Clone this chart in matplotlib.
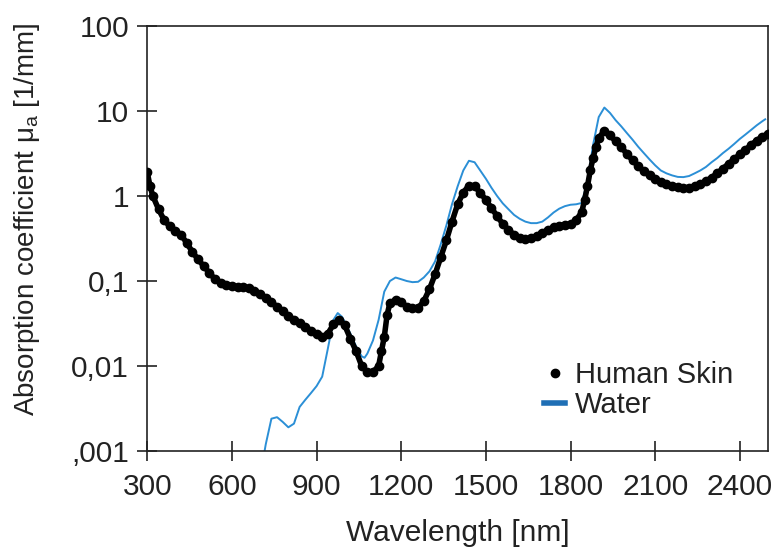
import matplotlib.pyplot as plt
from matplotlib.lines import Line2D

# human skin absorption (1/mm)
skin_wl = [300, 310, 320, 340, 360, 380, 400, 420, 440, 460, 480, 500, 520, 540, 560, 580,
           600, 620, 640, 660, 680, 700, 720, 740, 760, 780, 800, 820, 840, 860, 880, 900,
           920, 940, 960, 980, 1000, 1020, 1040, 1060, 1080, 1100, 1120, 1130, 1140, 1150,
           1160, 1180, 1200, 1220, 1240, 1260, 1280, 1300, 1320, 1340, 1360, 1380, 1400,
           1420, 1440, 1460, 1480, 1500, 1520, 1540, 1560, 1580, 1600, 1620, 1640, 1660,
           1680, 1700, 1720, 1740, 1760, 1780, 1800, 1820, 1840, 1850, 1860, 1870, 1880,
           1890, 1900, 1920, 1940, 1960, 1980, 2000, 2020, 2040, 2060, 2080, 2100, 2120,
           2140, 2160, 2180, 2200, 2220, 2240, 2260, 2280, 2300, 2320, 2340, 2360, 2380,
           2400, 2420, 2440, 2460, 2480, 2500]
skin_mu = [1.9, 1.3, 1.0, 0.7, 0.52, 0.44, 0.39, 0.35, 0.28, 0.22, 0.18, 0.15, 0.125, 0.105,
           0.095, 0.091, 0.088, 0.086, 0.084, 0.082, 0.077, 0.070, 0.063, 0.056, 0.050, 0.044,
           0.039, 0.035, 0.032, 0.029, 0.026, 0.024, 0.022, 0.024, 0.031, 0.035, 0.030, 0.021,
           0.015, 0.010, 0.0085, 0.0085, 0.010, 0.015, 0.022, 0.040, 0.055, 0.060, 0.056,
           0.050, 0.048, 0.048, 0.058, 0.080, 0.12, 0.19, 0.30, 0.50, 0.80, 1.1, 1.33, 1.30,
           1.1, 0.90, 0.72, 0.58, 0.47, 0.40, 0.35, 0.32, 0.31, 0.32, 0.34, 0.37, 0.40, 0.43,
           0.45, 0.46, 0.47, 0.52, 0.65, 0.9, 1.3, 2.0, 2.8, 3.8, 4.8, 5.9, 5.2, 4.4, 3.8,
           3.1, 2.65, 2.25, 1.95, 1.75, 1.58, 1.45, 1.38, 1.32, 1.28, 1.25, 1.26, 1.3, 1.38,
           1.5, 1.65, 1.85, 2.1, 2.4, 2.7, 3.1, 3.5, 4.0, 4.5, 5.0, 5.4]

# water absorption (1/mm)
water_wl = [700, 720, 740, 760, 780, 800, 820, 840, 860, 880, 900, 920, 940, 960, 975, 990,
            1000, 1020, 1040, 1060, 1070, 1080, 1100, 1120, 1140, 1160, 1180, 1200, 1220,
            1240, 1260, 1280, 1300, 1320, 1340, 1360, 1380, 1400, 1420, 1440, 1460, 1480,
            1500, 1520, 1540, 1560, 1580, 1600, 1620, 1640, 1660, 1680, 1700, 1720, 1740,
            1760, 1780, 1800, 1820, 1840, 1860, 1880, 1900, 1920, 1940, 1960, 1980, 2000,
            2020, 2040, 2060, 2080, 2100, 2120, 2140, 2160, 2180, 2200, 2220, 2240, 2260,
            2280, 2300, 2320, 2340, 2360, 2380, 2400, 2420, 2440, 2460, 2480, 2490]
water_mu = [0.0005, 0.0012, 0.0024, 0.0025, 0.0022, 0.0019, 0.0021, 0.0033, 0.0040, 0.0048,
            0.0058, 0.0075, 0.016, 0.035, 0.042, 0.038, 0.033, 0.024, 0.017, 0.013, 0.0125,
            0.014, 0.020, 0.035, 0.075, 0.10, 0.11, 0.105, 0.100, 0.097, 0.098, 0.11, 0.13,
            0.17, 0.27, 0.45, 0.8, 1.3, 2.0, 2.6, 2.5, 2.0, 1.6, 1.25, 1.0, 0.82, 0.70, 0.60,
            0.54, 0.50, 0.48, 0.48, 0.50, 0.56, 0.64, 0.71, 0.76, 0.79, 0.80, 0.83, 1.5, 4.0,
            8.5, 11.0, 9.5, 7.8, 6.6, 5.5, 4.6, 3.8, 3.2, 2.7, 2.3, 2.0, 1.85, 1.75, 1.68,
            1.67, 1.72, 1.85, 2.0, 2.2, 2.5, 2.8, 3.2, 3.6, 4.1, 4.7, 5.3, 6.0, 6.8, 7.6, 8.0]

x_ticks = [300, 600, 900, 1200, 1500, 1800, 2100, 2400]
y_ticks = [0.001, 0.01, 0.1, 1, 10, 100]
y_labels = [",001", "0,01", "0,1", "1", "10", "100"]

plt.rcParams['font.family'] = ['Liberation Sans', 'DejaVu Sans']
ink = "#222222"

fig = plt.figure(figsize=(7.75, 5.49), dpi=100)
ax = fig.add_axes([0.19, 0.1785, 0.801, 0.774])

ax.plot(water_wl, water_mu, color="#2b8fd6", lw=1.4, zorder=2)
ax.plot(skin_wl, skin_mu, color="black", lw=4, zorder=3)
ax.plot(skin_wl, skin_mu, "o", color="black", ms=6, zorder=3)

ax.set_yscale("log")
ax.set_xlim(300, 2500)
ax.set_ylim(0.001, 100)
ax.set_xticks(x_ticks)
ax.set_xticklabels([str(t) for t in x_ticks])
ax.set_yticks(y_ticks)
ax.set_yticklabels(y_labels)
ax.minorticks_off()
ax.tick_params(direction="inout", length=14, width=1.2, colors=ink, labelsize=21.5)
ax.tick_params(axis="y", pad=6)
ax.tick_params(axis="x", pad=9)

for s in ax.spines.values():
    s.set_color(ink)
    s.set_linewidth(1.2)

ax.set_xlabel("Wavelength [nm]", fontsize=21.5, color=ink, labelpad=13)
ax.set_ylabel("Absorption coefficient $\\mathregular{\\mu_a}$ [1/mm]", fontsize=20,
              color=ink)
ax.yaxis.set_label_coords(-0.17, 0.545)

handles = [Line2D([], [], marker="o", ls="none", color="black", ms=6),
           Line2D([], [], color="#1f6fb5", lw=4)]
ax.legend(handles, ["Human Skin", "Water"], loc="lower right", frameon=False,
          fontsize=21, handlelength=0.7, handletextpad=0.35, labelspacing=0.05,
          borderpad=0, borderaxespad=0, bbox_to_anchor=(0.944, 0.076), labelcolor=ink)

fig.savefig("out.png", dpi=100)
